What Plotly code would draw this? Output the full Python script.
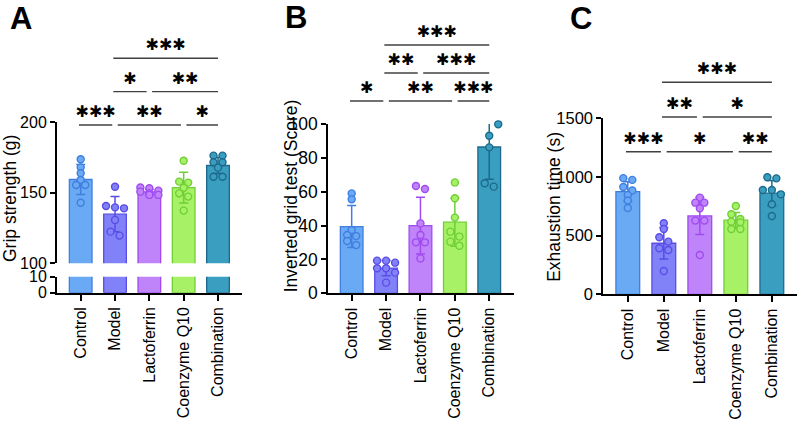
import plotly.graph_objects as go

W, H = 800, 424

categories = ["Control", "Model", "Lactoferrin", "Coenzyme Q10", "Combination"]
fill_colors = ["#6aaaf4", "#8282f8", "#c084fa", "#a6f165", "#3a9ec0"]
edge_colors = ["#3f7fe0", "#5a4ce6", "#a04af0", "#6fcf35", "#1d6a8c"]

# Panel A: grip strength (g)
A_mean = [159.3, 134.8, 150.5, 153.5, 169.2]
A_sd = [10.6, 12.5, 1.7, 10.9, 5.7]
A_points = [
    [173.6, 167.9, 163.7, 159.0, 155.4, 155.4, 142.9],
    [154.2, 140.6, 138.9, 139.6, 130.7, 122.4, 119.6],
    [153.1, 153.6, 151.4, 149.5, 150.7, 148.4, 148.4],
    [172.6, 157.8, 157.1, 153.5, 149.5, 147.2, 137.3],
    [176.2, 176.2, 171.5, 171.5, 167.7, 161.3, 161.3],
]
# Panel B: inverted grid test (score)
B_mean = [39.4, 14.9, 40.0, 42.0, 86.4]
B_sd = [12.4, 4.5, 16.8, 14.2, 19.1]
B_points = [
    [59.0, 55.5, 37.4, 34.4, 33.8, 30.9, 28.5],
    [19.3, 19.3, 18.1, 14.8, 14.8, 12.2, 6.3],
    [63.4, 61.6, 41.3, 34.4, 30.1, 30.1, 20.6],
    [65.5, 56.1, 44.7, 36.4, 33.5, 30.5, 28.1],
    [100.4, 100.4, 99.8, 93.1, 86.2, 65.0, 63.0],
]
# Panel C: exhaustion time (s)
C_mean = [875, 435, 668, 632, 862]
C_sd = [85, 134, 159, 66, 108]
C_points = [
    [990, 975, 915, 885, 845, 800, 735],
    [605, 557, 486, 449, 392, 378, 199],
    [824, 781, 781, 733, 628, 628, 335],
    [753, 682, 642, 619, 613, 557, 557],
    [988, 997, 889, 889, 852, 767, 667],
]
# significance brackets: (from group, to group, label, level)
A_sig = [(0, 1, "***", 1), (1, 3, "**", 1), (3, 4, "*", 1), (1, 2, "*", 2), (2, 4, "**", 2), (1, 4, "***", 3)]
B_sig = [(0, 1, "*", 1), (1, 3, "**", 1), (3, 4, "***", 1), (1, 2, "**", 2), (2, 4, "***", 2), (1, 4, "***", 3)]
C_sig = [(0, 1, "***", 1), (1, 3, "*", 1), (3, 4, "**", 1), (1, 2, "**", 2), (2, 4, "*", 2), (1, 4, "***", 3)]

FONT = "Arial, Liberation Sans, sans-serif"


def fx(px):
    return px / W


def fy(px):
    return 1 - px / H


def swarm(vals, px_per_unit, px_per_cat, thr=5.0, step=9.0, maxrow=3):
    order = sorted(range(len(vals)), key=lambda k: -vals[k])
    offs = [0.0] * len(vals)
    rows, cur = [], []
    for k in order:
        if cur and (abs(vals[cur[0]] - vals[k]) * px_per_unit <= thr) and len(cur) < maxrow:
            cur.append(k)
        else:
            if cur:
                rows.append(cur)
            cur = [k]
    rows.append(cur)
    for r in rows:
        n = len(r)
        for m, k in enumerate(r):
            offs[k] = (m - (n - 1) / 2) * step / px_per_cat
    return offs


fig = go.Figure()

panels = {
    "A": dict(x0=57, x1=241.7, xr=[-0.69, 4.69], xa="x", ymain="y", ylow="y2", ybr="y3",
              ytop=122, ybot=263.3, yr=[100, 200], mean=A_mean, sd=A_sd, pts=A_points, sig=A_sig,
              L1=125, L3=58.3, tfs=16),
    "B": dict(x0=328.3, x1=514, xr=[-0.68, 4.72], xa="x2", ymain="y4", ylow=None, ybr="y5",
              ytop=124, ybot=293.3, yr=[0, 100], mean=B_mean, sd=B_sd, pts=B_points, sig=B_sig,
              L1=101, L3=45, tfs=17.5),
    "C": dict(x0=603.3, x1=796.7, xr=[-0.68, 4.69], xa="x3", ymain="y6", ylow=None, ybr="y7",
              ytop=118.3, ybot=294.3, yr=[0, 1500], mean=C_mean, sd=C_sd, pts=C_points, sig=C_sig,
              L1=151.7, L3=82.3, tfs=16.5),
}

for key, p in panels.items():
    px_per_cat = (p["x1"] - p["x0"]) / (p["xr"][1] - p["xr"][0])
    px_per_unit = (p["ybot"] - p["ytop"]) / (p["yr"][1] - p["yr"][0])
    for i, cat in enumerate(categories):
        fig.add_trace(go.Bar(
            x=[i], y=[p["mean"][i]], width=0.66, xaxis=p["xa"], yaxis=p["ymain"],
            marker=dict(color=fill_colors[i], line=dict(color=edge_colors[i], width=1.3)),
            error_y=dict(type="data", array=[p["sd"][i]], color=edge_colors[i], thickness=1.5, width=4.5),
            showlegend=False, hoverinfo="skip"))
        if p["ylow"]:
            fig.add_trace(go.Bar(
                x=[i], y=[p["mean"][i]], width=0.66, xaxis=p["xa"], yaxis=p["ylow"],
                marker=dict(color=fill_colors[i], line=dict(color=edge_colors[i], width=1.3)),
                showlegend=False, hoverinfo="skip"))
    for i, cat in enumerate(categories):
        vals = p["pts"][i]
        offs = swarm(vals, px_per_unit, px_per_cat)
        fig.add_trace(go.Scatter(
            x=[i + o for o in offs], y=vals, mode="markers", xaxis=p["xa"], yaxis=p["ymain"],
            marker=dict(size=7, color=fill_colors[i], line=dict(color=edge_colors[i], width=1.4)),
            cliponaxis=False, showlegend=False, hoverinfo="skip"))
    unit = (p["L1"] - p["L3"]) / 2
    p["brdom"] = [fy(p["L1"] + 0.5 * unit), fy(p["L3"] - 0.6 * unit)]
    off = 12.0 / unit
    starts = {(s[0], s[3]) for s in p["sig"]}
    ends = {(s[1], s[3]) for s in p["sig"]}
    for (a, b, lab, lev) in p["sig"]:
        xa0 = a + (0.08 if (a, lev) in ends else -0.05)
        xa1 = b - (0.08 if (b, lev) in starts else 0.0)
        fig.add_trace(go.Scatter(
            x=[xa0, xa1], y=[lev, lev], mode="lines", xaxis=p["xa"], yaxis=p["ybr"],
            line=dict(color="#404040", width=1.4), showlegend=False, hoverinfo="skip"))
        fig.add_trace(go.Scatter(
            x=[(xa0 + xa1) / 2], y=[lev + off], mode="text", text=["\u2731" * len(lab)],
            textfont=dict(size=16, color="black", family="DejaVu Sans"), xaxis=p["xa"], yaxis=p["ybr"],
            cliponaxis=False, showlegend=False, hoverinfo="skip"))

axis_common = dict(showline=True, linecolor="black", linewidth=2, ticks="outside", ticklen=5,
                   tickwidth=2, tickcolor="black", showgrid=False, zeroline=False, automargin=False)

layout = dict(
    width=W, height=H, margin=dict(l=0, r=0, t=0, b=0, autoexpand=False),
    plot_bgcolor="white", paper_bgcolor="white",
    barmode="overlay", font=dict(family=FONT, color="black", size=16),
)
names = {"A": ("xaxis", "yaxis", "yaxis2", "yaxis3"), "B": ("xaxis2", "yaxis4", None, "yaxis5"),
         "C": ("xaxis3", "yaxis6", None, "yaxis7")}
for key, p in panels.items():
    xn, yn, yln, ybn = names[key]
    layout[xn] = dict(axis_common, domain=[fx(p["x0"]), fx(p["x1"])], range=p["xr"],
                      anchor=p["ylow"] or p["ymain"], tickvals=list(range(5)), ticktext=categories,
                      tickangle=-90, ticklen=6,
                      tickfont=dict(size=16, color="black", family=FONT))
    yf = dict(size=p["tfs"], color="black", family=FONT)
    if key == "A":
        layout[yn] = dict(axis_common, domain=[fy(p["ybot"]), fy(p["ytop"])], range=p["yr"],
                          anchor=p["xa"], tickvals=[100, 150, 200], tickfont=yf)
        layout[yln] = dict(axis_common, domain=[fy(292.7), fy(276.7)], range=[0, 10],
                           anchor=p["xa"], tickvals=[0, 10], tickfont=yf)
    else:
        tv = [0, 20, 40, 60, 80, 100] if key == "B" else [0, 500, 1000, 1500]
        layout[yn] = dict(axis_common, domain=[fy(p["ybot"]), fy(p["ytop"])], range=p["yr"],
                          anchor=p["xa"], tickvals=tv, tickfont=yf)
    layout[ybn] = dict(domain=p["brdom"], range=[0.5, 3.6], anchor=p["xa"], visible=False,
                       showgrid=False, zeroline=False, automargin=False)

fig.update_layout(**layout)

titles = [("Grip strength (g)", 10, 199), ("Inverted grid test (Score)", 290.5, 195.8),
          ("Exhaustion time (s)", 553.3, 206.5)]
for t, x, y in titles:
    fig.add_annotation(text=t, x=fx(x), y=fy(y), xref="paper", yref="paper", showarrow=False,
                       textangle=-90, xanchor="center", yanchor="middle",
                       font=dict(size=17.5, color="black", family=FONT))
letters = [("A", 21, 18.5), ("B", 296, 17), ("C", 580.5, 18.5)]
for t, x, y in letters:
    fig.add_annotation(text="<b>%s</b>" % t, x=fx(x), y=fy(y), xref="paper", yref="paper",
                       showarrow=False, xanchor="center", yanchor="middle",
                       font=dict(size=31, color="black", family=FONT))

fig.write_html("out.html")
